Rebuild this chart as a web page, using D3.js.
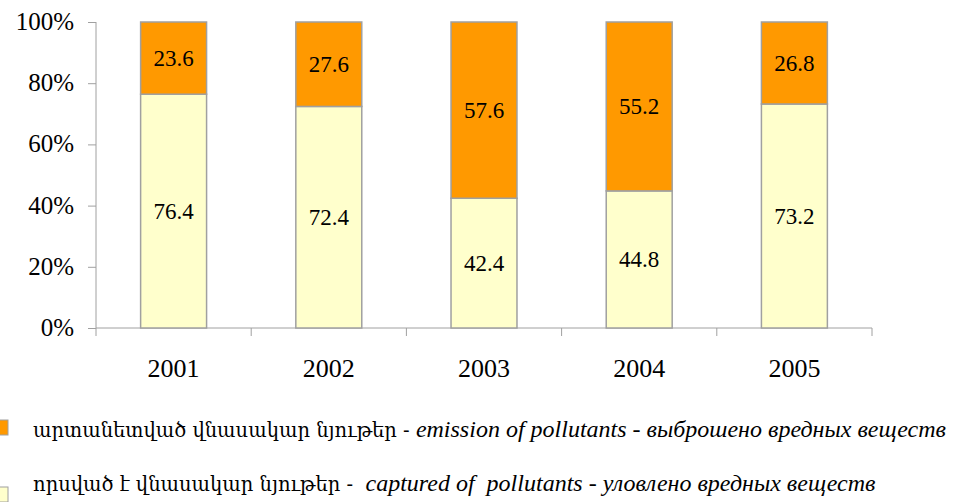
<!DOCTYPE html>
<html lang="en">
<head>
    <meta charset="UTF-8">
    <title>Pollutants stacked bars</title>
    <script type="text/javascript" src="https://cdn.jsdelivr.net/npm/d3@7"></script>
    <style type="text/css">
        body { margin: 0; background: #fff; }
        svg { display: block; }
    </style>
</head>
<body>
    <script type="text/javascript">

        var w = 964;
        var h = 502;

        var years = ["2001", "2002", "2003", "2004", "2005"];
        var captured = [76.4, 72.4, 42.4, 44.8, 73.2];
        var emission = [23.6, 27.6, 57.6, 55.2, 26.8];
        var yTicks = [0, 20, 40, 60, 80, 100];

        var serif = "Liberation Serif, Noto Serif, serif";

        var svg = d3.select("body")
                    .append("svg")
                    .attr("width", w)
                    .attr("height", h);

        var x = d3.scaleBand().domain(years).range([96, 872]).paddingInner(0.575).paddingOuter(0.2875);
        var y = d3.scaleLinear().domain([0, 100]).range([328, 22]);

        var rows = years.map(function(yr, i) {
            return { year: yr, captured: captured[i], emission: emission[i] };
        });
        var stack = d3.stack().keys(["captured", "emission"])(rows);
        var colors = { captured: "#ffffcc", emission: "#ff9900" };

        // y axis
        var yAxis = d3.axisLeft(y).tickValues(yTicks).tickSize(8).tickPadding(14)
                      .tickFormat(function(d) { return d + "%"; });
        var gy = svg.append("g").attr("transform", "translate(96,0)").call(yAxis);
        gy.select(".domain").attr("stroke", "#a0a0a0").attr("d", "M0,22V328");
        gy.selectAll(".tick line").attr("stroke", "#a0a0a0");
        gy.selectAll(".tick text")
            .style("font-family", serif)
            .style("font-size", "25px")
            .attr("fill", "#000")
            .attr("dy", "0.3em");

        // x axis: line with ticks at category boundaries
        var gx = svg.append("g");
        gx.append("line").attr("x1", 96).attr("x2", 872).attr("y1", 328).attr("y2", 328).attr("stroke", "#a0a0a0");
        var step = x.step();
        gx.selectAll("line.tk")
            .data(d3.range(years.length + 1))
            .enter()
            .append("line")
            .attr("class", "tk")
            .attr("x1", function(d) { return 96 + d * step; })
            .attr("x2", function(d) { return 96 + d * step; })
            .attr("y1", 328).attr("y2", 336)
            .attr("stroke", "#a0a0a0");
        gx.selectAll("text")
            .data(years)
            .enter()
            .append("text")
            .attr("x", function(d) { return x(d) + x.bandwidth() / 2; })
            .attr("y", 377)
            .attr("text-anchor", "middle")
            .style("font-family", serif)
            .style("font-size", "26px")
            .text(function(d) { return d; });

        // bars
        var layers = svg.selectAll("g.layer")
            .data(stack)
            .enter()
            .append("g")
            .attr("class", "layer")
            .attr("fill", function(d) { return colors[d.key]; });

        layers.selectAll("rect")
            .data(function(d) { return d; })
            .enter()
            .append("rect")
            .attr("x", function(d) { return x(d.data.year); })
            .attr("y", function(d) { return y(d[1]); })
            .attr("width", x.bandwidth())
            .attr("height", function(d) { return y(d[0]) - y(d[1]); })
            .attr("stroke", "#a0a0a0")
            .attr("stroke-width", 1.5);

        layers.selectAll("text")
            .data(function(d) { return d.map(function(p) { return { p: p, key: d.key }; }); })
            .enter()
            .append("text")
            .attr("x", function(d) { return x(d.p.data.year) + x.bandwidth() / 2; })
            .attr("y", function(d) { return (y(d.p[0]) + y(d.p[1])) / 2 + 8; })
            .attr("text-anchor", "middle")
            .style("font-family", serif)
            .style("font-size", "23px")
            .attr("fill", "#000")
            .text(function(d) { return d.p.data[d.key].toFixed(1); });

        // legend
        var legend = [
            { color: "#ff9900", arm: "արտանետված վնասակար նյութեր - ", en: "emission of pollutants", ru: " - выброшено вредных веществ", y: 437, sq: 420 },
            { color: "#ffffcc", arm: "որսված է վնասակար նյութեր -  ", en: "captured of  pollutants", ru: " - уловлено вредных веществ", y: 491, sq: 487 }
        ];
        var lg = svg.selectAll("g.legend")
            .data(legend)
            .enter()
            .append("g")
            .attr("class", "legend");
        lg.append("rect")
            .attr("x", -7).attr("y", function(d) { return d.sq; })
            .attr("width", 15).attr("height", 15)
            .attr("fill", function(d) { return d.color; })
            .attr("stroke", "#a0a0a0");
        var lt = lg.append("text")
            .attr("x", 33)
            .attr("y", function(d) { return d.y; })
            .style("white-space", "pre")
            .attr("fill", "#000");
        lt.append("tspan").style("font-family", "DejaVu Serif, serif").style("font-size", "19.5px").text(function(d) { return d.arm; });
        lt.append("tspan").style("font-family", serif).style("font-size", "24px").style("font-style", "italic").text(function(d) { return d.en; });
        lt.append("tspan").style("font-family", serif).style("font-size", "24px").style("font-style", "italic").text(function(d) { return d.ru; });

    </script>
</body>
</html>
